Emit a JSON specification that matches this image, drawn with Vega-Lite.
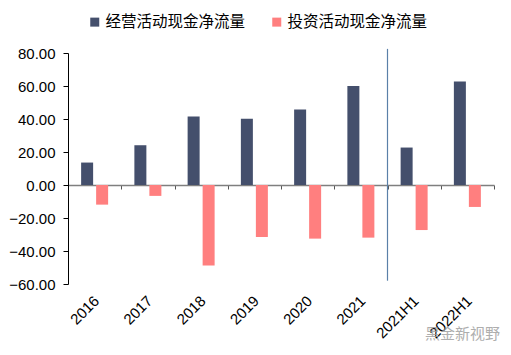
{
  "$schema": "https://vega.github.io/schema/vega-lite/v6.json",
  "autosize": "none",
  "width": 426,
  "height": 231,
  "padding": {"left": 68, "top": 53, "right": 17, "bottom": 71},
  "background": "white",
  "config": {"view": {"stroke": null}, "font": "Liberation Sans", "axisY": {"labelOverlap": false, "labelBound": false, "labelFlush": false}, "axisX": {"labelOverlap": false}},
  "datasets": {
    "bars": [
      {"period": "2016", "series": "经营活动现金净流量", "value": 13.6},
      {"period": "2016", "series": "投资活动现金净流量", "value": -11.9},
      {"period": "2017", "series": "经营活动现金净流量", "value": 24.1},
      {"period": "2017", "series": "投资活动现金净流量", "value": -6.6},
      {"period": "2018", "series": "经营活动现金净流量", "value": 41.5},
      {"period": "2018", "series": "投资活动现金净流量", "value": -48.8},
      {"period": "2019", "series": "经营活动现金净流量", "value": 40.2},
      {"period": "2019", "series": "投资活动现金净流量", "value": -31.5},
      {"period": "2020", "series": "经营活动现金净流量", "value": 45.7},
      {"period": "2020", "series": "投资活动现金净流量", "value": -32.5},
      {"period": "2021", "series": "经营活动现金净流量", "value": 60.0},
      {"period": "2021", "series": "投资活动现金净流量", "value": -31.9},
      {"period": "2021H1", "series": "经营活动现金净流量", "value": 22.7},
      {"period": "2021H1", "series": "投资活动现金净流量", "value": -27.3},
      {"period": "2022H1", "series": "经营活动现金净流量", "value": 62.8},
      {"period": "2022H1", "series": "投资活动现金净流量", "value": -13.3}
    ],
    "sep": [{"period": "2021H1", "top": 82.5, "bottom": -58}],
    "wm": [{"period": "2022H1", "t": "黑金新视野", "v": -90}]
  },
  "layer": [
    {
      "data": {"name": "bars"},
      "mark": {"type": "bar"},
      "encoding": {
        "x": {
          "field": "period", "type": "nominal",
          "scale": {"paddingInner": 0, "paddingOuter": 0},
          "axis": {"orient": "bottom", "domain": false, "ticks": false, "labelAngle": -45, "labelFontSize": 15, "labelColor": "#000", "labelPadding": 9, "labelOffset": -3, "title": null}
        },
        "xOffset": {
          "field": "series", "type": "nominal",
          "sort": ["经营活动现金净流量", "投资活动现金净流量"],
          "scale": {"paddingInner": 0.2, "paddingOuter": 0.875}
        },
        "y": {
          "field": "value", "type": "quantitative",
          "scale": {"domain": [-60, 80], "nice": false},
          "axis": {"values": [-60, -40, -20, 0, 20, 40, 60, 80], "tickCount": 8, "format": ".2f", "grid": false, "domainColor": "#000", "tickColor": "#000", "tickSize": 5, "labelFontSize": 15, "labelPadding": 8, "labelColor": "#000", "title": null}
        },
        "color": {
          "field": "series", "type": "nominal",
          "sort": ["经营活动现金净流量", "投资活动现金净流量"],
          "scale": {"domain": ["经营活动现金净流量", "投资活动现金净流量"], "range": ["#444F6C", "#FF7F7F"]},
          "legend": {"orient": "none", "legendX": 19, "legendY": -39, "direction": "horizontal", "title": null, "symbolType": "square", "symbolSize": 81, "symbolStrokeWidth": 0, "labelFontSize": 15.5, "labelFont": "Noto Sans CJK SC", "labelColor": "#000", "columnPadding": 23, "labelOffset": 3}
        }
      }
    },
    {
      "data": {"name": "sep"},
      "mark": {"type": "rule", "color": "#5A80A8", "strokeWidth": 1.2},
      "encoding": {
        "x": {
          "field": "period", "type": "nominal", "bandPosition": 0,
          "axis": {"orient": "bottom", "offset": -99, "labels": false, "domain": true, "domainColor": "#7F7F7F", "domainWidth": 1.3, "ticks": true, "tickBand": "extent", "tickColor": "#555", "tickSize": 4, "title": null}
        },
        "y": {"field": "top", "type": "quantitative"},
        "y2": {"field": "bottom"}
      }
    },
    {
      "data": {"name": "wm"},
      "mark": {"type": "text", "fontSize": 15, "font": "Noto Sans CJK SC", "color": "#9a9a9a", "opacity": 0.8, "dx": -5, "clip": false},
      "encoding": {
        "x": {"field": "period", "type": "nominal", "axis": null},
        "y": {"field": "v", "type": "quantitative"},
        "text": {"field": "t"}
      }
    }
  ],
  "resolve": {"axis": {"x": "independent"}}
}
